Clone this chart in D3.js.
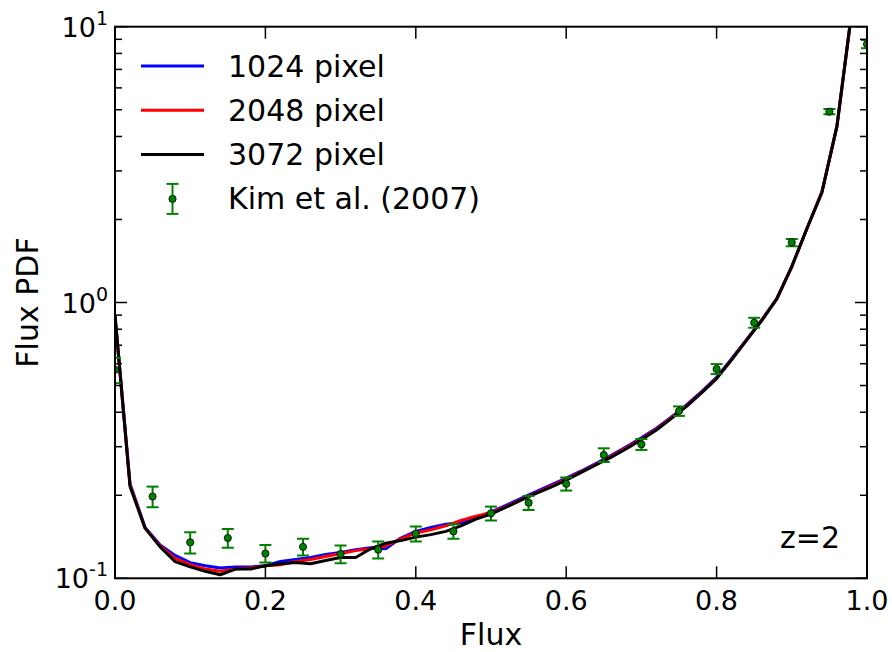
<!DOCTYPE html>
<html>
<head>
<meta charset="utf-8">
<script src="https://cdn.jsdelivr.net/npm/d3@7/dist/d3.min.js"></script>
<style>
  html, body { margin: 0; padding: 0; background: #fff; }
  svg { display: block; font-family: "DejaVu Sans", sans-serif; }
</style>
</head>
<body>
<svg id="chart" width="892" height="652"></svg>
<script>
// Flux grid of the simulated PDFs (bin step 0.02)
const fluxGrid = [0.00,0.02,0.04,0.06,0.08,0.10,0.12,0.14,0.16,0.18,0.20,0.22,0.24,0.26,0.28,0.30,0.32,0.34,0.36,0.38,0.40,0.42,0.44,0.46,0.48,0.50,0.52,0.54,0.56,0.58,0.60,0.62,0.64,0.66,0.68,0.70,0.72,0.74,0.76,0.78,0.80,0.82,0.84,0.86,0.88,0.90,0.92,0.94,0.96,0.98];

const pdf1024 = [0.90,0.220,0.153,0.132,0.121,0.114,0.111,0.109,0.110,0.110,0.111,0.115,0.117,0.119,0.122,0.124,0.127,0.129,0.128,0.140,0.148,0.153,0.157,0.159,0.166,0.174,0.184,0.195,0.206,0.218,0.231,0.245,0.261,0.279,0.300,0.323,0.350,0.385,0.425,0.475,0.535,0.625,0.735,0.865,1.03,1.35,1.85,2.52,4.35,11.5];

const pdf2048 = [0.88,0.218,0.152,0.131,0.118,0.112,0.108,0.106,0.108,0.109,0.111,0.112,0.115,0.117,0.120,0.123,0.126,0.128,0.131,0.139,0.146,0.150,0.155,0.162,0.168,0.173,0.182,0.193,0.204,0.216,0.229,0.243,0.259,0.277,0.297,0.320,0.347,0.382,0.422,0.472,0.532,0.622,0.732,0.862,1.03,1.35,1.85,2.51,4.35,11.5];

const pdf3072 = [0.90,0.215,0.152,0.130,0.115,0.110,0.106,0.103,0.108,0.108,0.111,0.113,0.114,0.113,0.116,0.119,0.119,0.128,0.134,0.137,0.141,0.144,0.148,0.155,0.164,0.171,0.181,0.192,0.203,0.214,0.227,0.242,0.258,0.275,0.295,0.318,0.345,0.380,0.420,0.470,0.530,0.620,0.730,0.860,1.03,1.35,1.85,2.50,4.35,11.5];

// Kim et al. (2007) observed flux PDF with 1-sigma errors
const kimFlux = [0.00,0.05,0.10,0.15,0.20,0.25,0.30,0.35,0.40,0.45,0.50,0.55,0.60,0.65,0.70,0.75,0.80,0.85,0.90,0.95,1.00];
const kimPdf  = [0.57,0.198,0.135,0.140,0.123,0.130,0.1225,0.127,0.145,0.148,0.172,0.188,0.220,0.280,0.306,0.404,0.574,0.845,1.65,4.92,8.65];
const kimErr  = [0.06,0.017,0.012,0.011,0.009,0.009,0.009,0.009,0.009,0.009,0.010,0.011,0.012,0.016,0.014,0.016,0.024,0.035,0.05,0.11,0.30];

const xTicks = [0, 0.2, 0.4, 0.6, 0.8, 1.0];
const xTickLabels = ["0.0", "0.2", "0.4", "0.6", "0.8", "1.0"];
const yMajor = [0.1, 1, 10];
const yExponents = ["-1", "0", "1"];

const seriesNames = ["1024 pixel", "2048 pixel", "3072 pixel"];
const seriesColors = ["#0000ff", "#ff0000", "#000000"];
const seriesValues = [pdf1024, pdf2048, pdf3072];
const kimLabel = "Kim et al. (2007)";
const redshiftLabel = "z=2";

const svg = d3.select("#chart");
const pLeft = 115, pTop = 26.7, pRight = 867, pBottom = 578.3;

const x = d3.scaleLinear().domain([0, 1]).range([pLeft, pRight]);
const y = d3.scaleLog().domain([0.1, 10]).range([pBottom, pTop]);

svg.append("defs").append("clipPath").attr("id", "plotclip")
  .append("rect").attr("x", pLeft).attr("y", pTop)
  .attr("width", pRight - pLeft).attr("height", pBottom - pTop);

const plot = svg.append("g").attr("clip-path", "url(#plotclip)");

// simulated curves
const lineW = 3;
const line = d3.line().x(d => x(d[0])).y(d => y(d[1]));
seriesValues.forEach((vals, i) => {
  plot.append("path")
    .datum(fluxGrid.map((f, j) => [f, vals[j]]))
    .attr("d", line)
    .attr("fill", "none")
    .attr("stroke", seriesColors[i])
    .attr("stroke-width", lineW)
    .attr("stroke-linejoin", "round");
});

// observed points with error bars
const green = "#008000";
const capW = 6;
const obs = plot.append("g");
kimFlux.forEach((f, i) => {
  const cx = x(f), lo = y(kimPdf[i] - kimErr[i]), hi = y(kimPdf[i] + kimErr[i]);
  const g = obs.append("g");
  g.append("line").attr("x1", cx).attr("x2", cx).attr("y1", lo).attr("y2", hi)
    .attr("stroke", green).attr("stroke-width", 2);
  [lo, hi].forEach(yy => g.append("line")
    .attr("x1", cx - capW).attr("x2", cx + capW).attr("y1", yy).attr("y2", yy)
    .attr("stroke", green).attr("stroke-width", 2));
  g.append("circle").attr("cx", cx).attr("cy", y(kimPdf[i])).attr("r", 3.6)
    .attr("fill", green).attr("stroke", "#000").attr("stroke-width", 0.8);
});

// ticks (inward, on all four sides)
const axes = svg.append("g").attr("stroke", "#000");
const majorLen = 12, minorLen = 7;
xTicks.forEach(t => {
  axes.append("line").attr("x1", x(t)).attr("x2", x(t)).attr("y1", pBottom).attr("y2", pBottom - majorLen).attr("stroke-width", 1.5);
  axes.append("line").attr("x1", x(t)).attr("x2", x(t)).attr("y1", pTop).attr("y2", pTop + majorLen).attr("stroke-width", 1.5);
});
const yMinor = [];
[0.1, 1].forEach(b => { for (let k = 2; k <= 9; k++) yMinor.push(b * k); });
yMajor.forEach(t => {
  axes.append("line").attr("x1", pLeft).attr("x2", pLeft + majorLen).attr("y1", y(t)).attr("y2", y(t)).attr("stroke-width", 1.5);
  axes.append("line").attr("x1", pRight).attr("x2", pRight - majorLen).attr("y1", y(t)).attr("y2", y(t)).attr("stroke-width", 1.5);
});
yMinor.forEach(t => {
  axes.append("line").attr("x1", pLeft).attr("x2", pLeft + minorLen).attr("y1", y(t)).attr("y2", y(t)).attr("stroke-width", 1.5);
  axes.append("line").attr("x1", pRight).attr("x2", pRight - minorLen).attr("y1", y(t)).attr("y2", y(t)).attr("stroke-width", 1.5);
});

// frame
svg.append("rect").attr("x", pLeft).attr("y", pTop).attr("width", pRight - pLeft).attr("height", pBottom - pTop)
  .attr("fill", "none").attr("stroke", "#000").attr("stroke-width", 2);

// tick labels
const fs = 27;
xTicks.forEach((t, i) => {
  svg.append("text").attr("x", x(t)).attr("y", pBottom + 32)
    .attr("text-anchor", "middle").attr("font-size", fs).text(xTickLabels[i]);
});
yMajor.forEach((t, i) => {
  const tx = svg.append("text").attr("x", 108).attr("y", y(t) + 10)
    .attr("text-anchor", "end").attr("font-size", fs);
  tx.append("tspan").text("10");
  tx.append("tspan").attr("font-size", 19).attr("dy", -12).text(yExponents[i]);
});

// axis titles
svg.append("text").attr("x", (pLeft + pRight) / 2).attr("y", 645)
  .attr("text-anchor", "middle").attr("font-size", 30).text("Flux");
svg.append("text").attr("transform", `translate(38,${(pTop + pBottom) / 2}) rotate(-90)`)
  .attr("text-anchor", "middle").attr("font-size", 30).text("Flux PDF");

// legend
const lg = svg.append("g");
const lgX0 = 141, lgX1 = 204, lgY0 = 66, lgDy = 44.3, lgTextX = 228;
seriesNames.forEach((n, i) => {
  const yy = lgY0 + i * lgDy;
  lg.append("line").attr("x1", lgX0).attr("x2", lgX1).attr("y1", yy).attr("y2", yy)
    .attr("stroke", seriesColors[i]).attr("stroke-width", lineW);
  lg.append("text").attr("x", lgTextX).attr("y", yy + 10.5).attr("font-size", 30).text(n);
});
{
  const yy = lgY0 + 3 * lgDy, cx = (lgX0 + lgX1) / 2;
  lg.append("line").attr("x1", cx).attr("x2", cx).attr("y1", yy - 15).attr("y2", yy + 15)
    .attr("stroke", green).attr("stroke-width", 2);
  [yy - 15, yy + 15].forEach(v => lg.append("line").attr("x1", cx - capW).attr("x2", cx + capW)
    .attr("y1", v).attr("y2", v).attr("stroke", green).attr("stroke-width", 2));
  lg.append("circle").attr("cx", cx).attr("cy", yy).attr("r", 3.6)
    .attr("fill", green).attr("stroke", "#000").attr("stroke-width", 0.8);
  lg.append("text").attr("x", lgTextX).attr("y", yy + 10.5).attr("font-size", 30).text(kimLabel);
}

// redshift annotation
svg.append("text").attr("x", 840).attr("y", 548).attr("text-anchor", "end")
  .attr("font-size", 30).text(redshiftLabel);
</script>
</body>
</html>
